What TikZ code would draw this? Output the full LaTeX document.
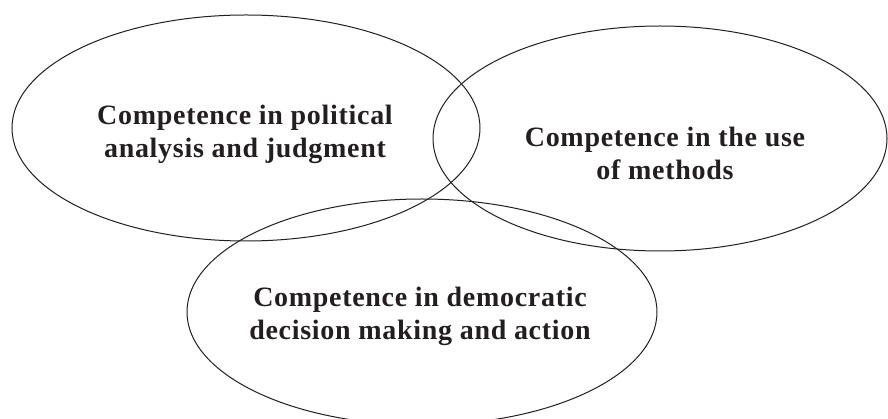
\documentclass[tikz,border=0pt]{standalone}
\usepackage{fontspec}
\setmainfont{Liberation Serif}
\newfontfamily\labelfont[LetterSpace=2.5]{Liberation Serif}
\definecolor{ink}{HTML}{231F20}
\begin{document}
\begin{tikzpicture}[x=1pt,y=-1pt,
  ring/.style={draw=ink,line width=1pt},
  label/.style={inner sep=0pt,anchor=base,text=ink,font=\labelfont\fontsize{28}{33}\selectfont\bfseries}]
\useasboundingbox (0,0) rectangle (888,419);
\clip (0,0) rectangle (888,419);
\draw[ring] (246,128) ellipse [x radius=234, y radius=113];
\draw[ring] (660,138.5) ellipse [x radius=227, y radius=112.5];
\draw[ring] (422,312) ellipse [x radius=235, y radius=113];
\node[label] (t1a) at (245,125) {Competence in political};
\node[label] (t1b) at (245,158) {analysis and judgment};
\node[label] (t2a) at (665,147) {Competence in the use};
\node[label] (t2b) at (665,180) {of methods};
\node[label] (t3a) at (420,306) {Competence in democratic};
\node[label] (t3b) at (420,339) {decision making and action};
\end{tikzpicture}
\end{document}
